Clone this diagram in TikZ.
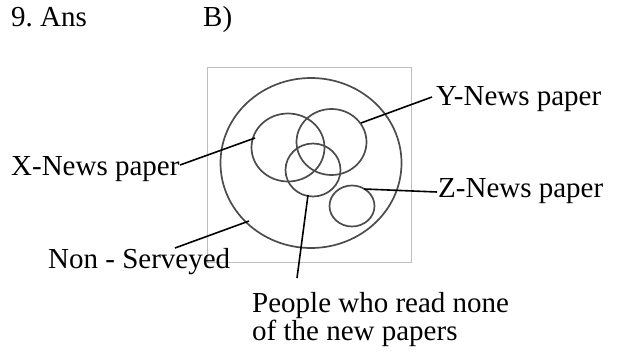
\documentclass[tikz,border=0pt]{standalone}
\usepackage{fontspec}
\setmainfont{Liberation Serif}
\begin{document}
\begin{tikzpicture}[x=1pt,y=-1pt,
	lab/.style={anchor=base west, inner sep=0pt, font=\fontsize{29}{28}\selectfont},
	ring/.style={draw=black!70, line width=1.7pt},
	pointer/.style={draw=black, line width=1.6pt}]
	\useasboundingbox (0,0) rectangle (621,356);

	\node[lab] (qno) at (11,27) {9.\ Ans};
	\node[lab] (ans) at (203,27) {B)};

	% frame and the sets
	\draw[black!25, line width=0.8pt] (207,67) rectangle (411,262);
	\draw[ring] (311,163) ellipse [x radius=90.5pt, y radius=85pt];
	\draw[ring] (288,147.5) ellipse [x radius=36.5pt, y radius=34pt];
	\draw[ring] (331.5,142) ellipse [x radius=35pt, y radius=33pt];
	\draw[ring] (313,170) ellipse [x radius=27.5pt, y radius=26.5pt];
	\draw[ring] (352,206) ellipse [x radius=22.5pt, y radius=20.5pt];

	\coordinate (xset) at (255,138);
	\coordinate (yset) at (361,123);
	\coordinate (zset) at (364,189);
	\coordinate (outer) at (249,221);
	\coordinate (none) at (308,195);

	\node[lab] (xlab) at (11,175) {X-News paper};
	\node[lab] (ylab) at (436,105) {Y-News paper};
	\node[lab] (zlab) at (438,197) {Z-News paper};
	\node[lab] (nlab) at (48,268) {Non - Serveyed};
	\node[lab, anchor=north west, align=left] (plab) at (252,292)
		{People who read none\\of the new papers};

	\coordinate (xtip) at (180,165);
	\coordinate (ytip) at (432,97);
	\coordinate (ztip) at (437,192);
	\coordinate (ntip) at (175,248);
	\coordinate (ptip) at (297,278);

	\draw[pointer] (xtip) -- (xset);
	\draw[pointer] (yset) -- (ytip);
	\draw[pointer] (zset) -- (ztip);
	\draw[pointer] (ntip) -- (outer);
	\draw[pointer] (none) -- (ptip);

\end{tikzpicture}
\end{document}
